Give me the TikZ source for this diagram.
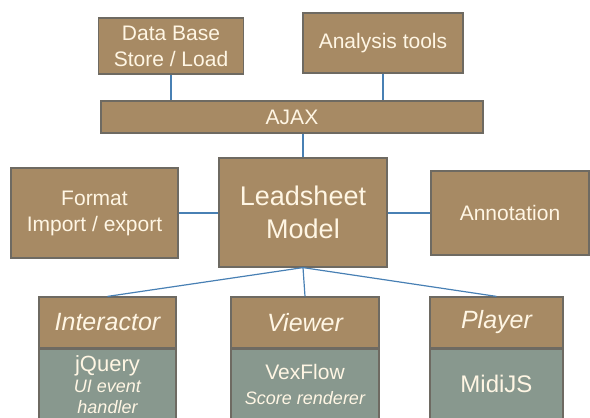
\documentclass[tikz,border=0pt]{standalone}
\usepackage{fontspec}
\setmainfont{Liberation Sans}
\definecolor{boxbrown}{RGB}{167,138,100}
\definecolor{libgreen}{RGB}{136,152,142}
\definecolor{edgegrey}{RGB}{110,106,98}
\definecolor{linkblue}{RGB}{72,128,180}
\definecolor{textcream}{RGB}{255,246,228}
\begin{document}
\begin{tikzpicture}[x=1pt, y=-1pt,
    block/.style={draw=edgegrey, line width=1.2pt, fill=boxbrown, text=textcream,
        align=center, inner sep=0pt, font=\fontsize{21}{26}\selectfont},
    libblock/.style={block, fill=libgreen},
    link/.style={draw=linkblue, line width=1.2pt}]
    \useasboundingbox (0,0) rectangle (590,418);
    % storage and tools on top
    \node[block, minimum width=145pt, minimum height=56pt] (db) at (171,46) {Data Base\\Store / Load};
    \node[block, minimum width=160pt, minimum height=60pt] (tools) at (383,43) {Analysis tools};
    \node[block, minimum width=382pt, minimum height=32pt] (ajax) at (292,117) {AJAX};
    \draw[link] (db.south) -- (db.south |- ajax.north);
    \draw[link] (tools.south) -- (tools.south |- ajax.north);
    % model row
    \node[block, minimum width=168pt, minimum height=109pt, font=\fontsize{27}{33}\selectfont] (model) at (303,212.5) {Leadsheet\\Model};
    \node[block, minimum width=167pt, minimum height=90pt] (format) at (94.5,213) {Format\\Import / export};
    \node[block, minimum width=158pt, minimum height=84pt] (annot) at (510,213) {Annotation};
    \draw[link] (model.north) -- (model.north |- ajax.south);
    \draw[link] (format.east) -- (format.east -| model.west);
    \draw[link] (annot.west) -- (annot.west -| model.east);
    % front-end modules with their libraries
    \foreach \name/\cx/\w/\head/\lib in {
        inter/107.5/137/Interactor/{{\upshape\fontsize{22}{21}\selectfont jQuery}\\UI event\\handler},
        view/305/148/Viewer/{{\upshape\fontsize{21}{21}\selectfont VexFlow}\\[4pt]Score renderer},
        play/496.5/133/Player/{{\upshape\fontsize{24}{21}\selectfont MidiJS}}} {
        \node[block, minimum width=\w pt, minimum height=51pt, font=\itshape\fontsize{25}{30}\selectfont] (\name) at (\cx,322.5) {\head};
        \node[libblock, anchor=north, minimum width=\w pt, minimum height=70pt, font=\itshape\fontsize{18}{21}\selectfont] (\name lib) at (\name.south) {\lib};
        \draw[link] (model.south) -- (\name.north);
    }
\end{tikzpicture}
\end{document}
